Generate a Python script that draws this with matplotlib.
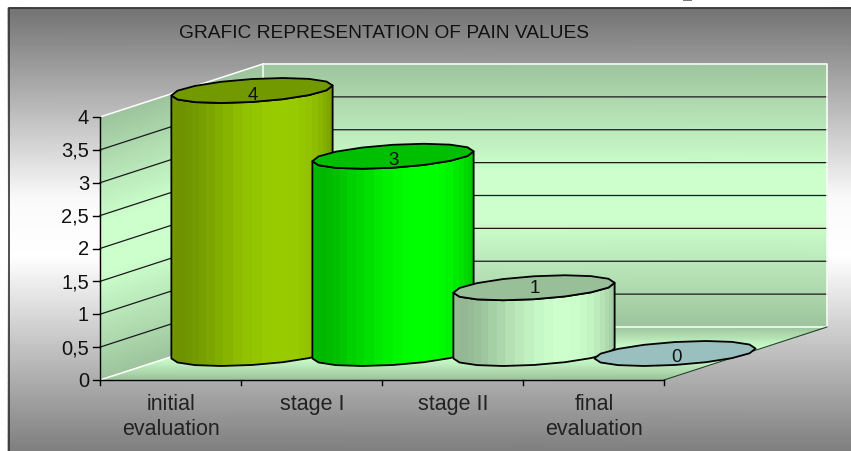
import numpy as np
import matplotlib
matplotlib.use("Agg")
import matplotlib.pyplot as plt
from matplotlib.colors import LinearSegmentedColormap, to_rgb
from matplotlib.patches import Polygon, Rectangle

plt.rcParams["font.family"] = ["Liberation Sans", "DejaVu Sans"]

# chart data
title = "GRAFIC REPRESENTATION OF PAIN VALUES"
categories = ["initial\nevaluation", "stage I", "stage II", "final\nevaluation"]
pain_values = [4, 3, 1, 0]
y_ticks = [0, 0.5, 1, 1.5, 2, 2.5, 3, 3.5, 4]
y_tick_labels = ["0", "0,5", "1", "1,5", "2", "2,5", "3", "3,5", "4"]
bar_colors = ["#99cc00", "#00ff00", "#ccffcc", "#ccffff"]

# layout of the fake 3d box, in image pixels
W, H = 851, 452
FRONT_LEFT, FRONT_RIGHT = 100, 664
FRONT_BOTTOM = 381
UNIT = 65.75
DEPTH_X, DEPTH_Y = 163, 53
CAT_W = (FRONT_RIGHT - FRONT_LEFT) / len(categories)
RX, SKEW_X, SKEW_Y = 74, 32, 12.5
LABEL_DY = [3.5, 3.5, -0.5, 3.5]


def front_y(v):
    return FRONT_BOTTOM - v * UNIT


def back_y(v):
    return front_y(v) - DEPTH_Y


def mesh(ax, p00, p10, p01, p11, cmap, zorder=1):
    """Paint a quad with a gradient running from the p0x edge to the p1x edge."""
    f = np.linspace(0, 1, 60)
    g = np.array([0.0, 1.0])
    F, G = np.meshgrid(f, g, indexing="ij")
    pts = [np.array(p, dtype=float) for p in (p00, p10, p01, p11)]
    X = (1 - F) * (1 - G) * pts[0][0] + F * (1 - G) * pts[1][0] + (1 - F) * G * pts[2][0] + F * G * pts[3][0]
    Y = (1 - F) * (1 - G) * pts[0][1] + F * (1 - G) * pts[1][1] + (1 - F) * G * pts[2][1] + F * G * pts[3][1]
    ax.pcolormesh(X, Y, F, cmap=cmap, shading="gouraud", vmin=0, vmax=1, zorder=zorder)


def ellipse_pts(cx, cy, t):
    return cx + RX * np.cos(t) + SKEW_X * np.sin(t), cy - SKEW_Y * np.sin(t)


def draw_cylinder(ax, i, value, color):
    rgb = np.array(to_rgb(color))
    cx = FRONT_LEFT + CAT_W * (i + 0.5) + DEPTH_X / 2
    base_y = front_y(0) - DEPTH_Y / 2
    top_y = front_y(value) - DEPTH_Y / 2
    t0 = np.arctan2(SKEW_X, RX)
    half = np.hypot(RX, SKEW_X)

    if value > 0:
        # side surface, facets narrow toward the edges
        t = np.linspace(t0 + np.pi, t0 + 2 * np.pi, 9)
        bx, by = ellipse_pts(cx, base_y, t)
        tx, ty = ellipse_pts(cx, top_y, t[::-1])
        xy = np.column_stack([np.r_[bx, tx], np.r_[by, ty]])
        body = Polygon(xy, closed=True, facecolor="none", edgecolor="none")
        ax.add_patch(body)
        th = np.linspace(0, np.pi, 27)
        edges = cx - half * np.cos(th)
        for j in range(len(th) - 1):
            mid = (th[j] + th[j + 1]) / 2
            shade = 0.72 + 0.28 * np.cos((mid - 0.62 * np.pi) * 1.05) ** 2
            strip = Rectangle((edges[j], top_y - 20), edges[j + 1] - edges[j] + 0.6,
                              base_y - top_y + 40, facecolor=rgb * shade, edgecolor="none", zorder=3 + i)
            ax.add_patch(strip)
            strip.set_clip_path(body)
        ax.add_patch(Polygon(xy, closed=True, facecolor="none", edgecolor="black",
                             linewidth=1.3, joinstyle="round", zorder=3 + i))

    t = np.linspace(t0, t0 + 2 * np.pi, 17)
    ex, ey = ellipse_pts(cx, top_y, t)
    ax.add_patch(Polygon(np.column_stack([ex, ey]), closed=True, facecolor=rgb * 0.75, edgecolor="black",
                         linewidth=1.3, joinstyle="round", zorder=3 + i))
    ax.text(cx + 1, top_y + LABEL_DY[i], str(value), ha="center", va="center", fontsize=13.5,
            color="#111111", zorder=10)


fig = plt.figure(figsize=(W / 100, H / 100), dpi=100)
ax = fig.add_axes([0, 0, 1, 1])
ax.axis("off")

# panel background
panel = LinearSegmentedColormap.from_list(
    "panel", [(0, "#737373"), (0.43, "#fafafa"), (0.56, "#ffffff"), (1, "#7f7f7f")])
mesh(ax, (8, 9), (8, H), (W, 9), (W, H), panel, zorder=0)

wall = LinearSegmentedColormap.from_list(
    "wall", [(0, "#9dc49d"), (0.4, "#ccffcc"), (0.6, "#ccffcc"), (1, "#9dc49d")])
bl, br = FRONT_LEFT + DEPTH_X, FRONT_RIGHT + DEPTH_X

mesh(ax, (FRONT_LEFT, front_y(4)), (FRONT_LEFT, front_y(0)), (bl, back_y(4)), (bl, back_y(0)), wall)
mesh(ax, (bl, back_y(4)), (bl, back_y(0)), (br, back_y(4)), (br, back_y(0)), wall)
mesh(ax, (bl, back_y(0)), (FRONT_LEFT, front_y(0)), (br, back_y(0)), (FRONT_RIGHT, front_y(0)), wall)

# gridlines on the side and back walls
for v in y_ticks[1:-1]:
    ax.plot([FRONT_LEFT, bl, br], [front_y(v), back_y(v), back_y(v)], color="#1a1a1a", lw=0.9, zorder=2)

# white edges of the box
ax.plot([FRONT_LEFT, bl, br, br, bl, FRONT_LEFT],
        [front_y(4), back_y(4), back_y(4), back_y(0), back_y(0), front_y(0)], color="white", lw=1.1, zorder=2)
ax.plot([bl, bl], [back_y(4), back_y(0)], color="white", lw=1.1, zorder=2)
ax.plot([FRONT_RIGHT, br], [front_y(0), back_y(0)], color="#24402a", lw=0.8, zorder=2)

for i, (value, color) in enumerate(zip(pain_values, bar_colors)):
    draw_cylinder(ax, i, value, color)

# axes
ax.plot([FRONT_LEFT, FRONT_LEFT], [front_y(4), front_y(0)], color="black", lw=1, zorder=9)
ax.plot([FRONT_LEFT, FRONT_RIGHT], [front_y(0), front_y(0)], color="black", lw=1, zorder=9)
for v, label in zip(y_ticks, y_tick_labels):
    ax.plot([FRONT_LEFT - 7, FRONT_LEFT], [front_y(v), front_y(v)], color="black", lw=1, zorder=9)
    ax.text(89, front_y(v) + 0.5, label, ha="right", va="center", fontsize=14.5, color="#111111", zorder=10)
for i in range(len(categories) + 1):
    x = FRONT_LEFT + CAT_W * i
    ax.plot([x, x], [front_y(0), front_y(0) + 5], color="black", lw=1, zorder=9)
for i, label in enumerate(categories):
    x = FRONT_LEFT + CAT_W * (i + 0.5)
    ax.text(x + 0.5, 394, label, ha="center", va="top", fontsize=15.5, color="#222222",
            linespacing=1.25, zorder=10)

ax.text(384, 33, title, ha="center", va="center", fontsize=13.8, color="#111111", zorder=10)

# panel frame and the stray mark at the very top
ax.plot([8.5, 8.5, W], [H, 9, 9], color="#333333", lw=1.2, zorder=11)
ax.add_patch(Rectangle((683, 0), 9, 1.5, facecolor="#777777", edgecolor="none", zorder=11))

ax.set_xlim(0, W)
ax.set_ylim(H, 0)
fig.savefig("out.png", dpi=100, facecolor="white")
